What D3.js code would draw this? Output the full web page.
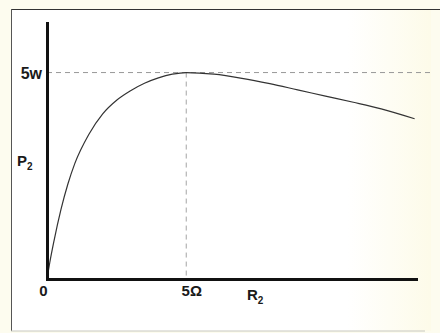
<!DOCTYPE html>
<html>
<head>
<meta charset="utf-8">
<script src="https://cdn.jsdelivr.net/npm/d3@7/dist/d3.min.js"></script>
<style>
  html, body { margin: 0; padding: 0; background: #fdfcef; }
  svg { display: block; }
  text { font-family: "Liberation Sans", Arial, sans-serif; font-weight: bold; fill: #1a1a1a; }
</style>
</head>
<body>
<svg id="chart" width="440" height="333"></svg>
<script>
// Load resistance R2 (ohms) and the power delivered to it P2 (watts)
const resistance = [0, 0.1, 0.25, 0.5, 0.75, 1.0, 1.5, 2.0, 2.5, 3.0, 3.5, 4.0, 4.5, 5, 6, 7, 8, 9, 10, 11, 12, 13.2];
const power      = [0, 0.4, 0.92, 1.68, 2.3, 2.8, 3.5, 4.0, 4.33, 4.56, 4.74, 4.87, 4.96, 5, 4.96, 4.86, 4.73, 4.58, 4.43, 4.28, 4.12, 3.88];

// Marked operating point: maximum power transfer
const peakR = [5];
const peakP = [5];
const xTickLabels = ["0", "5\u03A9"];
const yTickLabels = ["5w"];

const svg = d3.select("#chart");

// paper and frame
const bg = svg.append("defs").append("linearGradient")
  .attr("id", "paper").attr("x1", 0).attr("y1", 0).attr("x2", 1).attr("y2", 0);
bg.append("stop").attr("offset", "0%").attr("stop-color", "#ffffff");
bg.append("stop").attr("offset", "80%").attr("stop-color", "#ffffff");
bg.append("stop").attr("offset", "100%").attr("stop-color", "#fdfbe9");
svg.append("rect").attr("x", 11).attr("y", 9).attr("width", 420).attr("height", 322)
  .attr("fill", "url(#paper)");
svg.append("line").attr("x1", 11).attr("x2", 440).attr("y1", 9.5).attr("y2", 9.5)
  .attr("stroke", "#333").attr("stroke-width", 1.2);
svg.append("line").attr("x1", 11.5).attr("x2", 11.5).attr("y1", 9).attr("y2", 331)
  .attr("stroke", "#555").attr("stroke-width", 1);
svg.append("line").attr("x1", 11).attr("x2", 425).attr("y1", 331).attr("y2", 331)
  .attr("stroke", "#c8c8c0").attr("stroke-width", 1);

const x = d3.scaleLinear().domain([0, 13.25]).range([47, 416]);
const y = d3.scaleLinear().domain([0, 6.2]).range([279, 23]);

const data = resistance.map((r, i) => ({ r, p: power[i] }));

// guide lines to the peak
svg.append("line")
  .attr("x1", x(0)).attr("x2", 433)
  .attr("y1", y(peakP[0])).attr("y2", y(peakP[0]))
  .attr("stroke", "#999").attr("stroke-width", 1).attr("stroke-dasharray", "5,4");
svg.append("line")
  .attr("x1", x(peakR[0])).attr("x2", x(peakR[0]))
  .attr("y1", y(peakP[0])).attr("y2", y(0))
  .attr("stroke", "#a5a5a5").attr("stroke-width", 1).attr("stroke-dasharray", "5,4");

// power curve
svg.append("path")
  .datum(data)
  .attr("fill", "none")
  .attr("stroke", "#333")
  .attr("stroke-width", 1.2)
  .attr("d", d3.line().x(d => x(d.r)).y(d => y(d.p)).curve(d3.curveMonotoneX));

// axes
const xAxis = svg.append("g").attr("transform", `translate(0,${y(0)})`)
  .call(d3.axisBottom(x).tickValues([0, peakR[0]]).tickSize(0).tickSizeOuter(0)
    .tickFormat((d, i) => xTickLabels[i]));
const yAxis = svg.append("g").attr("transform", `translate(${x(0)},0)`)
  .call(d3.axisLeft(y).tickValues([peakP[0]]).tickSize(0).tickSizeOuter(0)
    .tickFormat((d, i) => yTickLabels[i]));

[xAxis, yAxis].forEach(g => {
  g.select(".domain").attr("stroke", "#111").attr("stroke-width", 3).attr("stroke-linecap", "square");
  g.selectAll("text").attr("font-size", 15).attr("font-family", "Liberation Sans, Arial, sans-serif")
    .attr("font-weight", "bold").attr("fill", "#1a1a1a");
});
xAxis.selectAll(".tick text").attr("dy", "0.95em")
  .attr("dx", (d, i) => i === 0 ? -4 : 5);
yAxis.selectAll(".tick text").attr("dx", "-2").attr("dy", "0.38em").attr("font-size", 16);

// axis titles
const xt = svg.append("text").attr("x", 247).attr("y", 300).attr("font-size", 15);
xt.append("tspan").text("R");
xt.append("tspan").attr("font-size", 10).attr("dy", 4).text("2");
const yt = svg.append("text").attr("x", 17).attr("y", 166).attr("font-size", 15);
yt.append("tspan").text("P");
yt.append("tspan").attr("font-size", 10).attr("dy", 4).text("2");
</script>
</body>
</html>
